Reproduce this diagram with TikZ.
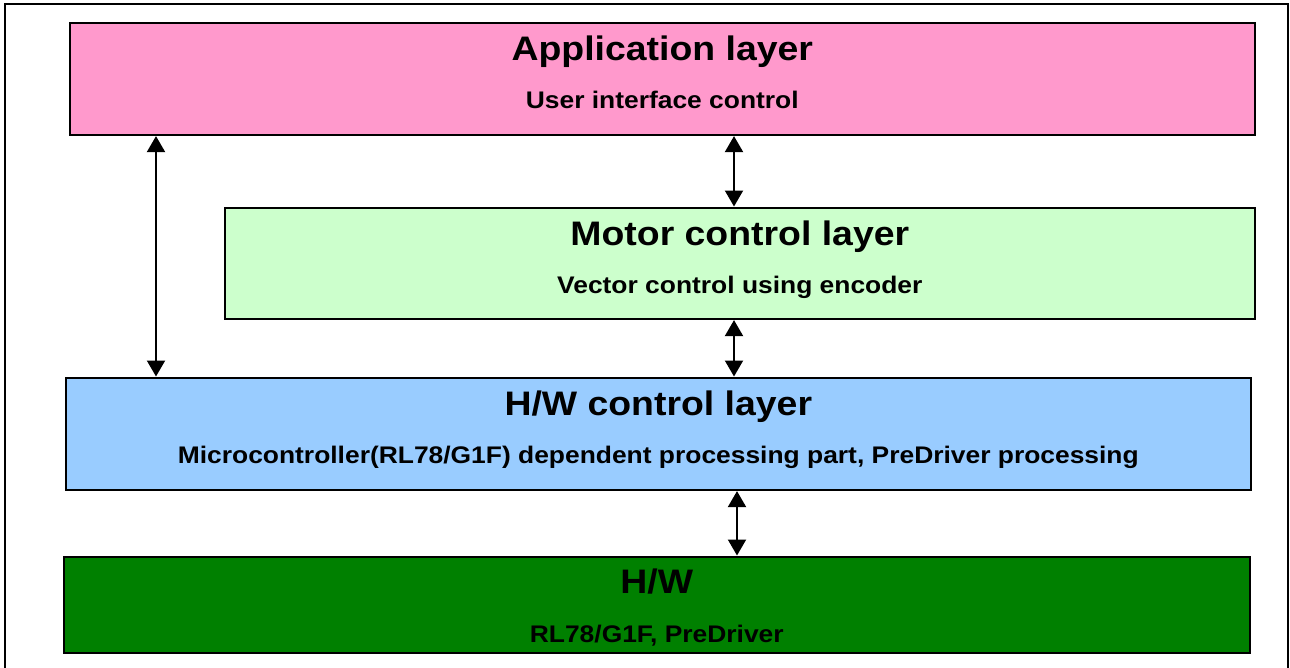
\documentclass[tikz,border=0pt]{standalone}
\usepackage{fontspec}
\setmainfont{Liberation Sans}[FakeStretch=1.1]
\usetikzlibrary{arrows.meta}
\definecolor{apppink}{HTML}{FF99CC}
\definecolor{motgreen}{HTML}{CCFFCC}
\definecolor{hwcblue}{HTML}{99CCFF}
\definecolor{hwgreen}{HTML}{008000}
\tikzset{
  layerbox/.style={draw=black, line width=1.6pt, inner sep=0pt, anchor=north west},
  titletext/.style={anchor=base, inner sep=0pt, font=\fontsize{34}{40}\selectfont\bfseries},
  subtext/.style={anchor=base, inner sep=0pt, font=\fontsize{24}{29}\selectfont\bfseries},
  biarrow/.style={line width=2pt, {Triangle[width=18pt,length=16pt]}-{Triangle[width=18pt,length=16pt]}, shorten <=0.5pt, shorten >=0.5pt}
}
\begin{document}
\begin{tikzpicture}[x=1pt,y=-1pt]
\useasboundingbox (0,0) rectangle (1290,667);
\begin{scope}
\clip (0,0) rectangle (1290,667);
\draw[line width=2pt] (5,690) -- (5,4) -- (1288,4) -- (1288,690);
\end{scope}
% boxes
\node[layerbox, fill=apppink, minimum width=1185pt, minimum height=112pt] (app) at (69,22) {};
\node[layerbox, fill=motgreen, minimum width=1030pt, minimum height=111pt] (mot) at (224,207) {};
\node[layerbox, fill=hwcblue, minimum width=1185pt, minimum height=112pt] (hwc) at (65,377) {};
\node[layerbox, fill=hwgreen, minimum width=1186pt, minimum height=96pt] (hw) at (63,556) {};
% texts
\node[titletext] (appt) at ([yshift=-38pt]app.north) {Application layer};
\node[subtext] (apps) at ([yshift=-86pt]app.north) {User interface control};
\node[titletext] (mott) at ([yshift=-38pt]mot.north) {Motor control layer};
\node[subtext] (mots) at ([yshift=-86pt]mot.north) {Vector control using encoder};
\node[titletext] (hwct) at ([yshift=-38pt]hwc.north) {H/W control layer};
\node[subtext] (hwcs) at ([yshift=-86pt]hwc.north) {Microcontroller(RL78/G1F) dependent processing part, PreDriver processing};
\node[titletext] (hwt) at ([yshift=-37pt]hw.north) {H/W};
\node[subtext] (hws) at ([yshift=-86pt]hw.north) {RL78/G1F, PreDriver};
% arrow columns
\coordinate (lx) at (156,0);
\coordinate (mx) at (734,0);
\coordinate (bx) at (737,0);
\draw[biarrow] (app.south -| lx) -- (hwc.north -| lx);
\draw[biarrow] (app.south -| mx) -- (mot.north -| mx);
\draw[biarrow] (mot.south -| mx) -- (hwc.north -| mx);
\draw[biarrow] (hwc.south -| bx) -- (hw.north -| bx);
\end{tikzpicture}
\end{document}
